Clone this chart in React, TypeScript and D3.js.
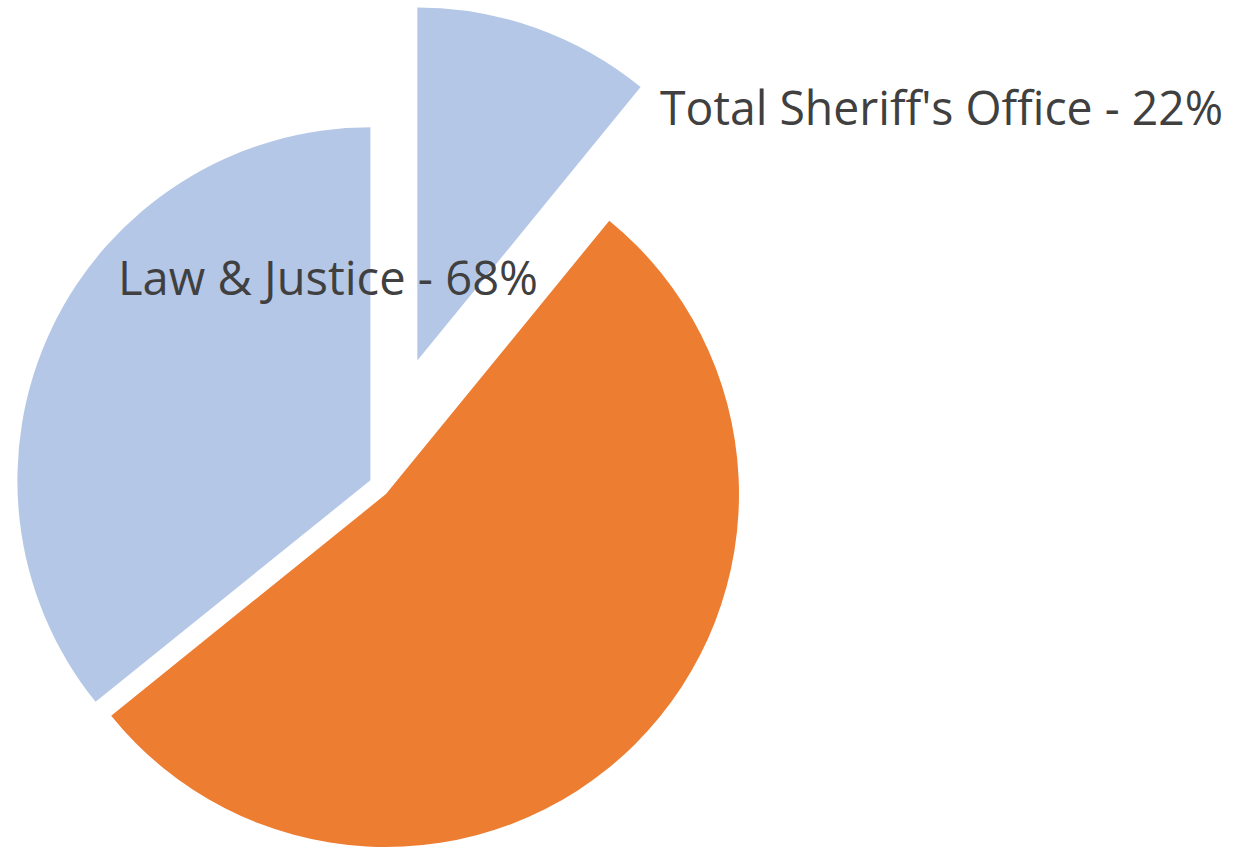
import React from "react";
import * as d3 from "d3";

const categories = ["Total Sheriff's Office", "Other", "Law & Justice"];
const values = [10.9, 53.3, 35.8];
const colors = ["#B4C7E7", "#ED7D31", "#B4C7E7"];
const explode = [129, 17, 4];
const labels = [
  { text: "Total Sheriff's Office - 22%", x: 660, y: 125, width: 563 },
  { text: "Law & Justice - 68%", x: 118, y: 295, width: 420 },
];

const W = 1238;
const H = 848;
const CX = 374;
const CY = 482;
const R = 353;

export default function App() {
  const pie = d3
    .pie<number>()
    .sort(null)
    .value((d) => d)
    .startAngle(0)
    .endAngle(2 * Math.PI);
  const arcs = pie(values);
  const arc = d3.arc<d3.PieArcDatum<number>>().innerRadius(0).outerRadius(R);

  return (
    <div style={{ position: "absolute", left: 0, top: 0 }}>
      <svg width={W} height={H} style={{ display: "block", background: "#fff" }}>
        <g transform={`translate(${CX},${CY})`}>
          {arcs.map((a, i) => {
            const mid = (a.startAngle + a.endAngle) / 2;
            const dx = Math.sin(mid) * explode[i];
            const dy = -Math.cos(mid) * explode[i];
            return (
              <path
                key={categories[i]}
                d={arc(a) || ""}
                fill={colors[i]}
                transform={`translate(${dx},${dy})`}
              />
            );
          })}
        </g>
        {labels.map((l) => (
          <text
            key={l.text}
            x={l.x}
            y={l.y}
            fontFamily="'Open Sans', sans-serif"
            fontSize={47}
            fill="#404040"
            textLength={l.width}
            lengthAdjust="spacingAndGlyphs"
          >
            {l.text}
          </text>
        ))}
      </svg>
    </div>
  );
}
